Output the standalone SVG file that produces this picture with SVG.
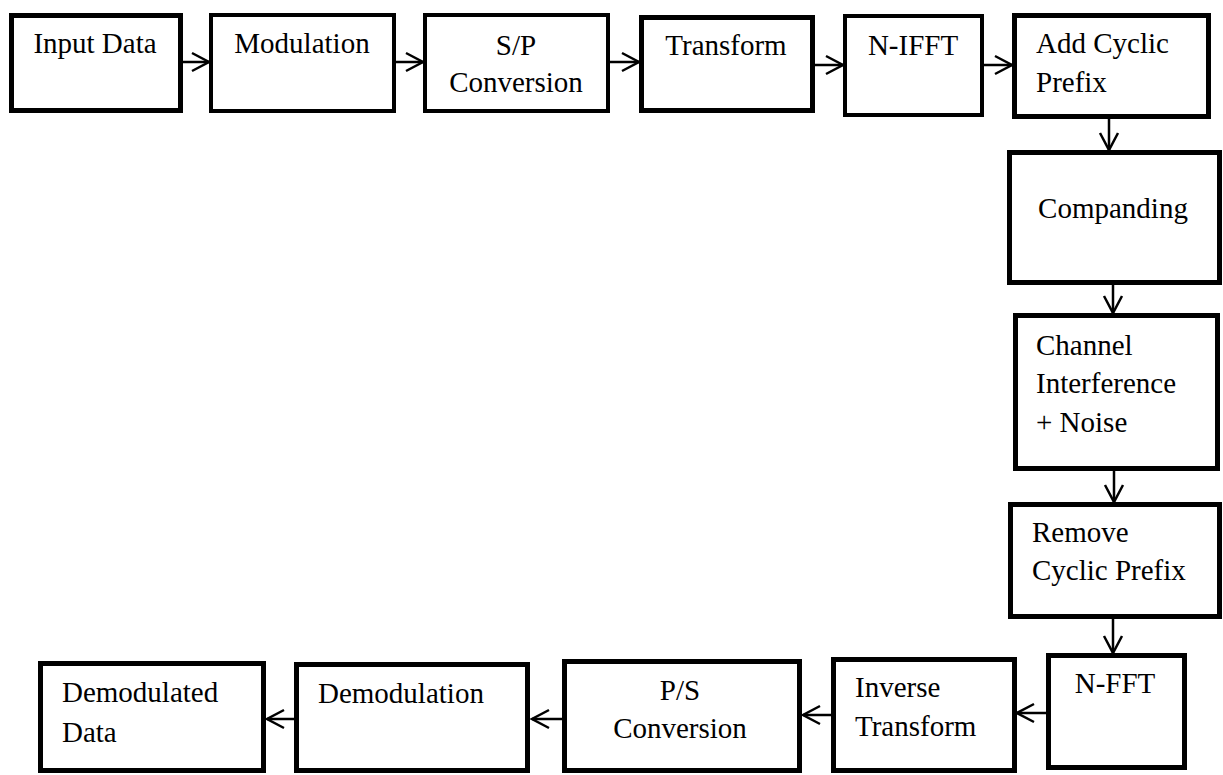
<svg xmlns="http://www.w3.org/2000/svg" width="1223" height="775" viewBox="0 0 1223 775">
<defs>
<style>
.box{fill:#fff;stroke:#000;stroke-width:5}
.thin{stroke-width:4}
.t{font-family:"Liberation Serif","Times New Roman",serif;font-size:29px;fill:#000}
.m{text-anchor:middle}
.c{stroke:#000;stroke-width:2.5;fill:none}
</style>
<marker id="ah" markerUnits="userSpaceOnUse" markerWidth="24" markerHeight="24" refX="18" refY="10" orient="auto" overflow="visible">
<path d="M1,1 L18,10 L1,19" fill="none" stroke="#000" stroke-width="2.5"/>
</marker>
</defs>
<rect width="1223" height="775" fill="#fff"/>
<g id="connectors">
<line class="c" x1="183" y1="62" x2="209" y2="62" marker-end="url(#ah)"/>
<line class="c" x1="396" y1="62" x2="423" y2="62" marker-end="url(#ah)"/>
<line class="c" x1="610" y1="62" x2="639" y2="62" marker-end="url(#ah)"/>
<line class="c" x1="815" y1="65" x2="843" y2="65" marker-end="url(#ah)"/>
<line class="c" x1="984" y1="65" x2="1012" y2="65" marker-end="url(#ah)"/>
<line class="c" x1="1109" y1="119" x2="1109" y2="150" marker-end="url(#ah)"/>
<line class="c" x1="1113" y1="285" x2="1113" y2="313" marker-end="url(#ah)"/>
<line class="c" x1="1114" y1="471" x2="1114" y2="502" marker-end="url(#ah)"/>
<line class="c" x1="1113" y1="619" x2="1113" y2="653" marker-end="url(#ah)"/>
<line class="c" x1="1046" y1="713" x2="1017" y2="713" marker-end="url(#ah)"/>
<line class="c" x1="831" y1="715" x2="803" y2="715" marker-end="url(#ah)"/>
<line class="c" x1="562" y1="719" x2="532" y2="719" marker-end="url(#ah)"/>
<line class="c" x1="294" y1="719" x2="267" y2="719" marker-end="url(#ah)"/>
</g>
<g id="input-data">
<rect class="box" x="11.5" y="15.5" width="169" height="95"/>
<text class="t m" x="95" y="53">Input Data</text>
</g>
<g id="modulation">
<rect class="box thin" x="211" y="15" width="183" height="96"/>
<text class="t m" x="302" y="53">Modulation</text>
</g>
<g id="sp-conversion">
<rect class="box thin" x="425" y="15" width="183" height="96"/>
<text class="t m" x="516" y="55">S/P</text>
<text class="t m" x="516" y="92">Conversion</text>
</g>
<g id="transform">
<rect class="box" x="641.5" y="17.5" width="171" height="93"/>
<text class="t m" x="726" y="55">Transform</text>
</g>
<g id="n-ifft">
<rect class="box thin" x="845" y="16" width="137" height="99"/>
<text class="t m" x="913" y="55">N-IFFT</text>
</g>
<g id="add-cyclic-prefix">
<rect class="box" x="1014.5" y="15.5" width="194" height="101"/>
<text class="t" x="1036" y="53">Add Cyclic</text>
<text class="t" x="1036" y="92">Prefix</text>
</g>
<g id="companding">
<rect class="box" x="1009.5" y="152.5" width="210" height="130"/>
<text class="t m" x="1113" y="218">Companding</text>
</g>
<g id="channel">
<rect class="box" x="1015.5" y="315.5" width="202" height="153"/>
<text class="t" x="1036" y="355">Channel</text>
<text class="t" x="1036" y="393">Interference</text>
<text class="t" x="1036" y="432">+ Noise</text>
</g>
<g id="remove-cyclic-prefix">
<rect class="box" x="1010.5" y="504.5" width="209" height="112"/>
<text class="t" x="1032" y="542">Remove</text>
<text class="t" x="1032" y="580">Cyclic Prefix</text>
</g>
<g id="n-fft">
<rect class="box" x="1048.5" y="655.5" width="136" height="112"/>
<text class="t m" x="1115" y="693">N-FFT</text>
</g>
<g id="inverse-transform">
<rect class="box" x="833.5" y="659.5" width="181" height="111"/>
<text class="t" x="855" y="697">Inverse</text>
<text class="t" x="855" y="736">Transform</text>
</g>
<g id="ps-conversion">
<rect class="box" x="564.5" y="661.5" width="235" height="109"/>
<text class="t m" x="680" y="700">P/S</text>
<text class="t m" x="680" y="738">Conversion</text>
</g>
<g id="demodulation">
<rect class="box" x="296.5" y="664.5" width="231" height="106"/>
<text class="t" x="318" y="703">Demodulation</text>
</g>
<g id="demodulated-data">
<rect class="box" x="40.5" y="663.5" width="223" height="107"/>
<text class="t" x="62" y="742">Data</text>
<text class="t" x="62" y="702">Demodulated</text>
</g>
</svg>
